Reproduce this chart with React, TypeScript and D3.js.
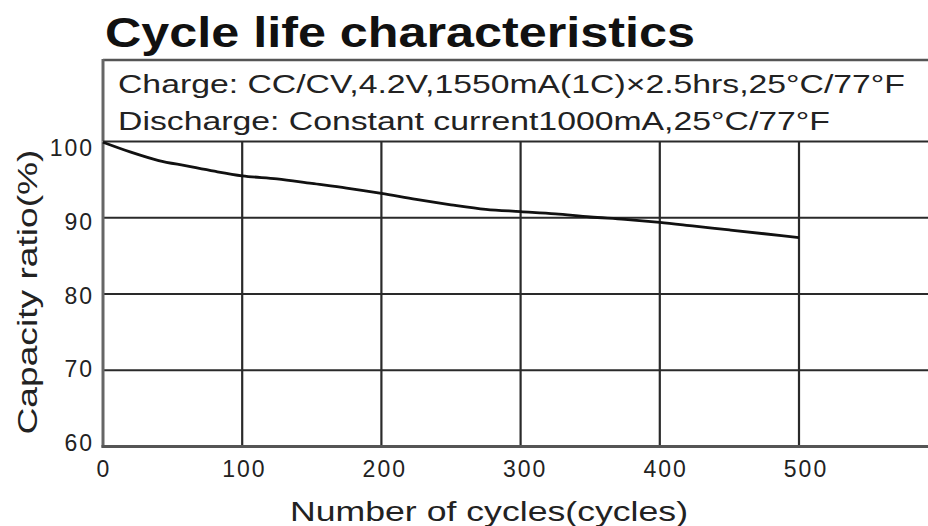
import React, { useEffect, useRef } from 'react';
import * as d3 from 'd3';

const cycles = [0, 20, 40, 60, 80, 100, 125, 150, 175, 200, 225, 250, 275, 300, 325, 350, 375, 400, 425, 450, 475, 500];
const capacity = [99.9, 98.6, 97.5, 96.8, 96.1, 95.5, 95.1, 94.5, 93.9, 93.2, 92.4, 91.7, 91.1, 90.8, 90.5, 90.1, 89.8, 89.4, 88.9, 88.4, 87.9, 87.4];

const xTicks = [0, 100, 200, 300, 400, 500];
const yTicks = [60, 70, 80, 90, 100];

const title = 'Cycle life characteristics';
const conditionLines = [
  'Charge: CC/CV,4.2V,1550mA(1C)×2.5hrs,25°C/77°F',
  'Discharge: Constant current1000mA,25°C/77°F',
];
const xLabel = 'Number of cycles(cycles)';
const yLabel = 'Capacity ratio(%)';

const App = () => {
  const ref = useRef<SVGSVGElement | null>(null);

  useEffect(() => {
    const svg = d3.select(ref.current);
    svg.selectAll('*').remove();

    const W = 928;
    const H = 526;
    const left = 103;
    const top = 141.5;
    const bottom = 446.5;
    const font = 'Arial, "Liberation Sans", Helvetica, sans-serif';

    const x = d3.scaleLinear().domain([0, 500]).range([left, 799]);
    const y = d3.scaleLinear().domain([60, 100]).range([bottom, top]);

    svg.append('rect').attr('width', W).attr('height', H).attr('fill', '#fff');

    // title
    svg.append('text')
      .attr('x', 105)
      .attr('y', 47)
      .attr('font-family', font)
      .attr('font-weight', 'bold')
      .attr('font-size', 42)
      .attr('fill', '#111')
      .attr('textLength', 590)
      .attr('lengthAdjust', 'spacingAndGlyphs')
      .text(title);

    // conditions box
    svg.append('line')
      .attr('x1', left).attr('x2', W)
      .attr('y1', 60).attr('y2', 60)
      .attr('stroke', '#555').attr('stroke-width', 2.5);
    svg.append('line')
      .attr('x1', left).attr('x2', left)
      .attr('y1', 59).attr('y2', top)
      .attr('stroke', '#666').attr('stroke-width', 3);

    const lineLengths = [787, 712];
    conditionLines.forEach((t, i) => {
      svg.append('text')
        .attr('x', 118)
        .attr('y', 93 + i * 37)
        .attr('font-family', font)
        .attr('font-size', 25)
        .attr('fill', '#222')
        .attr('textLength', lineLengths[i])
        .attr('lengthAdjust', 'spacingAndGlyphs')
        .text(t);
    });

    // horizontal grid
    svg.append('g')
      .selectAll('line')
      .data(yTicks.filter(d => d !== 60))
      .join('line')
      .attr('x1', left).attr('x2', W)
      .attr('y1', d => y(d)).attr('y2', d => y(d))
      .attr('stroke', '#2a2a2a').attr('stroke-width', 2.2);

    // vertical grid
    svg.append('g')
      .selectAll('line')
      .data(xTicks.filter(d => d !== 0))
      .join('line')
      .attr('x1', d => x(d)).attr('x2', d => x(d))
      .attr('y1', top).attr('y2', bottom)
      .attr('stroke', '#2a2a2a').attr('stroke-width', 2.2);

    // axes
    svg.append('line')
      .attr('x1', left).attr('x2', left)
      .attr('y1', top).attr('y2', bottom + 1)
      .attr('stroke', '#666').attr('stroke-width', 3);
    svg.append('line')
      .attr('x1', left - 1.5).attr('x2', W)
      .attr('y1', bottom).attr('y2', bottom)
      .attr('stroke', '#555').attr('stroke-width', 3);

    // tick labels
    svg.append('g')
      .selectAll('text')
      .data(yTicks)
      .join('text')
      .attr('x', 94)
      .attr('y', d => y(d) + 1 + (d - 80) * 0.27 + 8.5)
      .attr('text-anchor', 'end')
      .attr('font-family', font)
      .attr('font-size', 23)
      .attr('letter-spacing', 2)
      .attr('fill', '#222')
      .text(d => d);

    svg.append('g')
      .selectAll('text')
      .data(xTicks)
      .join('text')
      .attr('x', d => x(d) + 1 + d * 0.012)
      .attr('y', 477)
      .attr('text-anchor', 'middle')
      .attr('font-family', font)
      .attr('font-size', 23)
      .attr('letter-spacing', 2)
      .attr('fill', '#222')
      .text(d => d);

    // axis titles
    svg.append('text')
      .attr('x', 489)
      .attr('y', 521)
      .attr('text-anchor', 'middle')
      .attr('font-family', font)
      .attr('font-size', 27)
      .attr('fill', '#222')
      .attr('textLength', 398)
      .attr('lengthAdjust', 'spacingAndGlyphs')
      .text(xLabel);

    svg.append('text')
      .attr('transform', 'translate(37,292) rotate(-90)')
      .attr('text-anchor', 'middle')
      .attr('font-family', font)
      .attr('font-size', 27)
      .attr('fill', '#222')
      .attr('textLength', 285)
      .attr('lengthAdjust', 'spacingAndGlyphs')
      .text(yLabel);

    // curve
    const data = cycles.map((c, i) => ({ c, v: capacity[i] }));
    svg.append('path')
      .datum(data)
      .attr('fill', 'none')
      .attr('stroke', '#111')
      .attr('stroke-width', 2.8)
      .attr('d', d3.line<{ c: number; v: number }>()
        .x(d => x(d.c))
        .y(d => y(d.v))
        .curve(d3.curveMonotoneX));
  }, []);

  return (
    <svg
      ref={ref}
      width={928}
      height={526}
      style={{ position: 'absolute', left: 0, top: 0, display: 'block' }}
    />
  );
};

export default App;
